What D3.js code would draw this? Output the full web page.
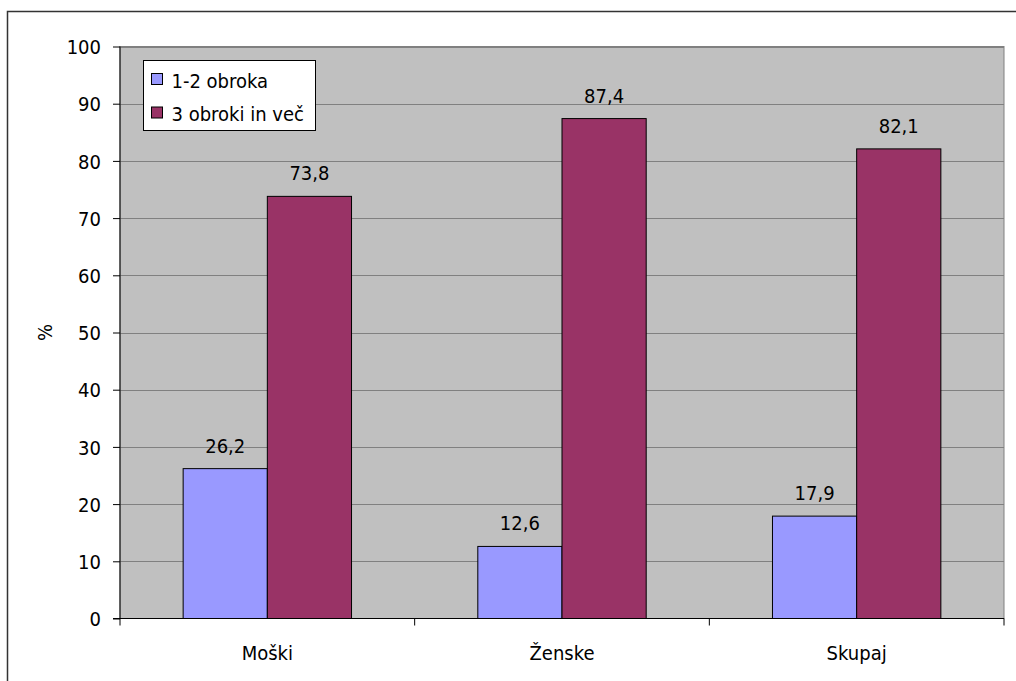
<!DOCTYPE html>
<html>
<head>
<meta charset="utf-8">
<script src="https://cdn.jsdelivr.net/npm/d3@7"></script>
<style>
  html, body { margin: 0; padding: 0; background: #fff; }
  svg { display: block; }
  text { font-family: "DejaVu Sans Condensed", "DejaVu Sans", sans-serif; font-stretch: condensed; fill: #000; }
</style>
</head>
<body>
<svg id="chart" width="1016" height="681"></svg>
<script>
const categories = ["Moški", "Ženske", "Skupaj"];
const seriesNames = ["1-2 obroka", "3 obroki in več"];
const seriesColors = ["#9999FF", "#993366"];
const valuesMeals12 = [26.2, 12.6, 17.9];
const valuesMeals3 = [73.8, 87.4, 82.1];
const yTicks = [0, 10, 20, 30, 40, 50, 60, 70, 80, 90, 100];

const series = [valuesMeals12, valuesMeals3];
const svg = d3.select("#chart");
const FONT = 20;

// outer chart frame
svg.append("rect")
  .attr("x", 7.5).attr("y", 11.5)
  .attr("width", 1030).attr("height", 700)
  .attr("fill", "none").attr("stroke", "#333").attr("stroke-width", 1.5);

const plot = { left: 120, top: 46.5, right: 1004, bottom: 618.5 };

const x0 = d3.scaleBand()
  .domain(categories)
  .range([plot.left, plot.right])
  .paddingInner(0).paddingOuter(0);

const barW = x0.bandwidth() / 3.5;
const x1 = d3.scaleBand()
  .domain(d3.range(series.length))
  .range([0, barW * 2]);

const y = d3.scaleLinear().domain([0, 100]).range([plot.bottom, plot.top]);

// plot background
svg.append("rect")
  .attr("x", plot.left).attr("y", plot.top)
  .attr("width", plot.right - plot.left).attr("height", plot.bottom - plot.top)
  .attr("fill", "#C0C0C0").attr("stroke", "#808080").attr("stroke-width", 1);

// horizontal gridlines
svg.append("g").selectAll("line")
  .data(yTicks.filter(t => t > 0))
  .join("line")
  .attr("x1", plot.left).attr("x2", plot.right)
  .attr("y1", d => Math.round(y(d)) + 0.5).attr("y2", d => Math.round(y(d)) + 0.5)
  .attr("stroke", "#808080").attr("stroke-width", 1);

// bars
const groups = svg.append("g").selectAll("g")
  .data(categories)
  .join("g")
  .attr("transform", c => `translate(${x0(c) + (x0.bandwidth() - barW * 2) / 2},0)`);

groups.selectAll("rect")
  .data((c, i) => series.map((s, k) => ({ k, v: s[i] })))
  .join("rect")
  .attr("x", d => x1(d.k))
  .attr("y", d => y(d.v))
  .attr("width", x1.bandwidth())
  .attr("height", d => y(0) - y(d.v))
  .attr("fill", d => seriesColors[d.k])
  .attr("stroke", "#000").attr("stroke-width", 1);

groups.selectAll("text.val")
  .data((c, i) => series.map((s, k) => ({ k, v: s[i] })))
  .join("text")
  .attr("class", "val")
  .attr("x", d => x1(d.k) + x1.bandwidth() / 2)
  .attr("y", d => y(d.v) - 16)
  .attr("text-anchor", "middle")
  .attr("font-size", FONT)
  .text(d => d.v.toFixed(1).replace(".", ","));

// y axis
const yAxis = svg.append("g")
  .attr("transform", `translate(${plot.left},0)`)
  .call(d3.axisLeft(y).tickValues(yTicks).tickSize(7).tickPadding(12).tickFormat(d3.format("d")));
yAxis.select(".domain").attr("stroke", "#000").attr("d", `M0,${plot.top}V${plot.bottom}`);
yAxis.selectAll(".tick line").attr("stroke", "#000");
yAxis.selectAll(".tick text")
  .attr("font-size", FONT)
  .attr("font-family", null)
  .attr("dy", "0.36em");

// x axis
const xAxisG = svg.append("g").attr("transform", `translate(0,${plot.bottom})`);
xAxisG.append("line")
  .attr("x1", plot.left - 7).attr("x2", plot.right)
  .attr("stroke", "#000").attr("stroke-width", 1);
xAxisG.selectAll("line.sep")
  .data(categories.map(c => x0(c)).concat([plot.right]))
  .join("line")
  .attr("class", "sep")
  .attr("x1", d => d).attr("x2", d => d)
  .attr("y1", 0).attr("y2", 7)
  .attr("stroke", "#000");
xAxisG.selectAll("text")
  .data(categories)
  .join("text")
  .attr("x", c => x0(c) + x0.bandwidth() / 2)
  .attr("y", 41)
  .attr("text-anchor", "middle")
  .attr("font-size", FONT)
  .text(c => c);

// y axis title
svg.append("text")
  .attr("transform", `translate(52,${(plot.top + plot.bottom) / 2}) rotate(-90)`)
  .attr("text-anchor", "middle")
  .attr("font-size", FONT)
  .text("%");

// legend
const legend = svg.append("g").attr("transform", "translate(143.5,60.5)");
legend.append("rect")
  .attr("width", 172).attr("height", 70)
  .attr("fill", "#fff").attr("stroke", "#000");
seriesNames.forEach((name, i) => {
  legend.append("rect")
    .attr("x", 8).attr("y", 13 + i * 33.5)
    .attr("width", 11).attr("height", 11)
    .attr("fill", seriesColors[i]).attr("stroke", "#000");
  legend.append("text")
    .attr("x", 28).attr("y", 27 + i * 33.5)
    .attr("font-size", FONT)
    .text(name);
});
</script>
</body>
</html>
